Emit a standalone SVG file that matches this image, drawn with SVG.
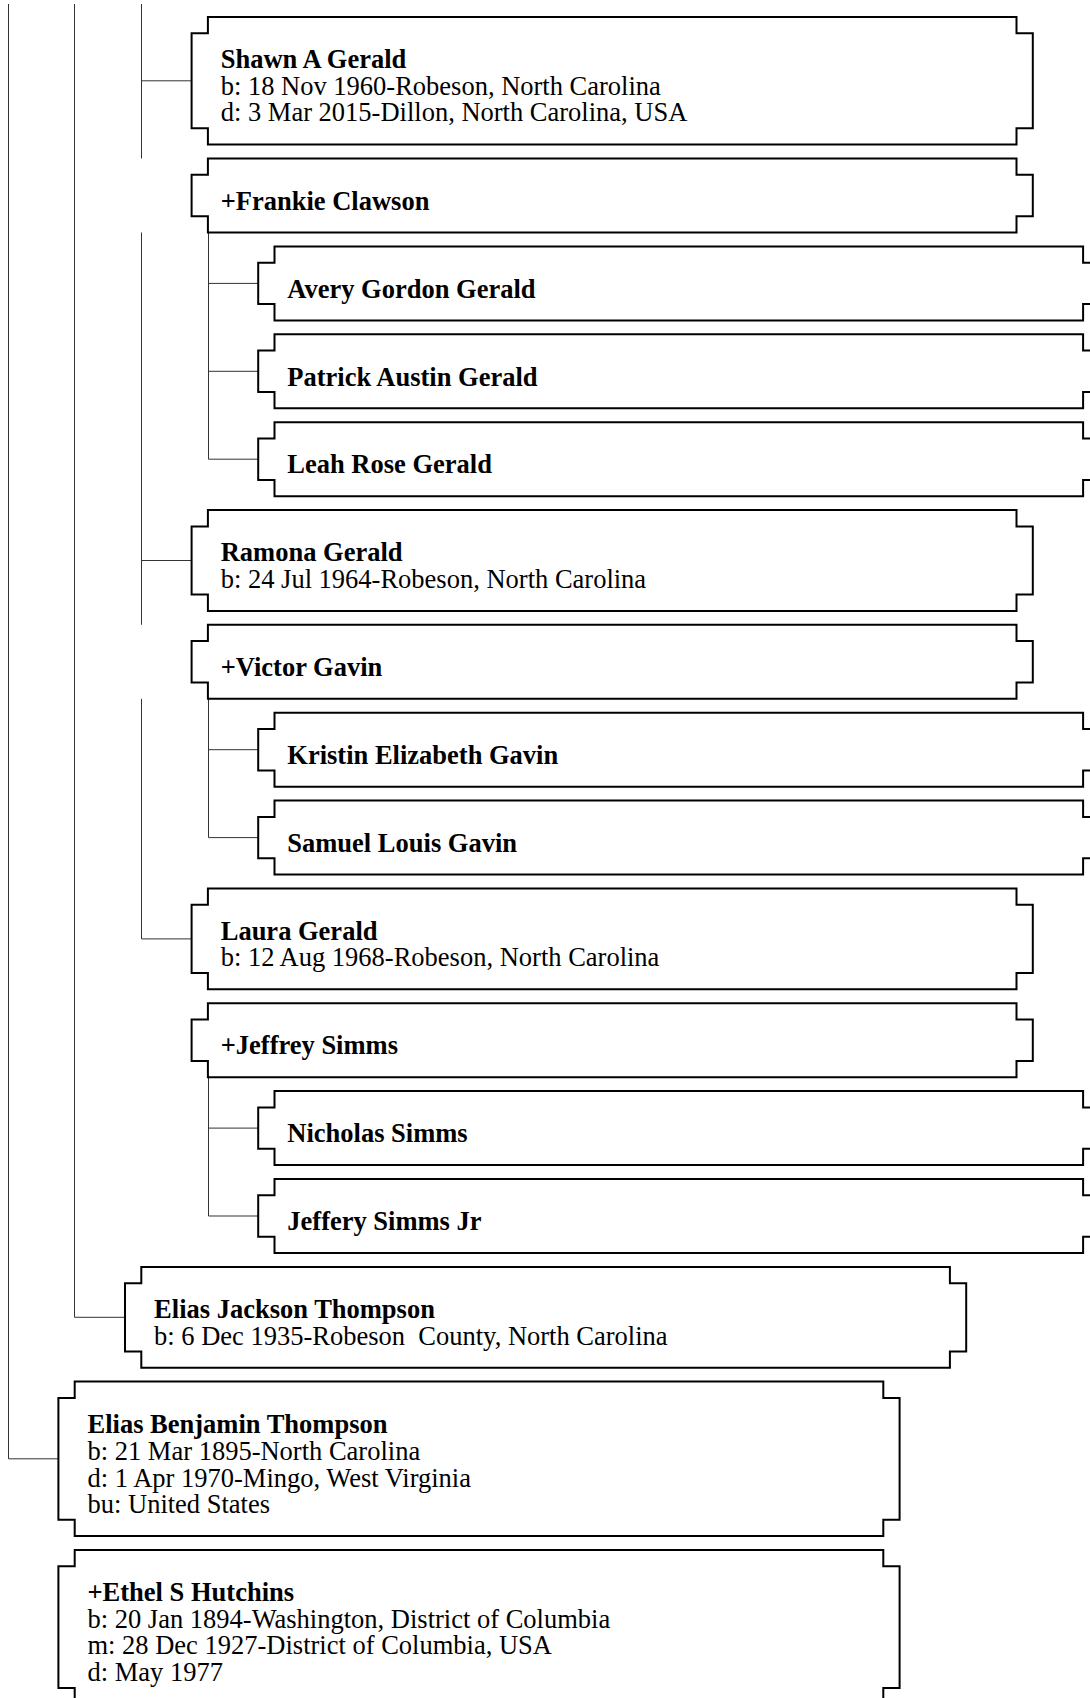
<svg xmlns="http://www.w3.org/2000/svg" width="1090" height="1698" viewBox="0 0 1090 1698">
<style>
.box{fill:#fff;stroke:#000;stroke-width:2;stroke-linejoin:miter}
.con{fill:none;stroke:#333;stroke-width:1}
text{font-family:"Liberation Serif","Times New Roman",serif;font-size:26.5px;fill:#000}
.n{font-weight:bold}
</style>
<rect width="1090" height="1698" fill="#fff"/>
<g id="connectors" class="con">
<path d="M8.5 4V1458.8H58.4"/>
<path d="M74.5 4V1317.3H125"/>
<path d="M141.5 4V158.5M141.5 80.8H191.6M141.5 232.5V624.8M141.5 560.5H191.6M141.5 698.8V938.9H191.6"/>
<path d="M208.5 232.5V459.2H258.2M208.5 283.4H258.2M208.5 371.3H258.2"/>
<path d="M208.5 698.8V837.6H258.2M208.5 749.7H258.2"/>
<path d="M208.5 1077.2V1216H258.2M208.5 1128.1H258.2"/>
</g>
<g id="shawn"><path class="box" d="M207.9 17h808.6v16.3h16.3v95h-16.3v16.3h-808.6v-16.3h-16.3v-95h16.3z"/>
<text transform="translate(220.7 68.2)"><tspan class="n" x="0" y="0">Shawn A Gerald</tspan><tspan x="0" y="26.6">b: 18 Nov 1960-Robeson, North Carolina</tspan><tspan x="0" y="53.2">d: 3 Mar 2015-Dillon, North Carolina, USA</tspan></text></g>
<g id="frankie"><path class="box" d="M207.9 158.5h808.6v16.3h16.3v41.4h-16.3v16.3h-808.6v-16.3h-16.3v-41.4h16.3z"/>
<text class="n" transform="translate(220.7 209.7)">+Frankie Clawson</text></g>
<g id="avery"><path class="box" d="M274.5 246.4h808.6v16.3h16.3v41.4h-16.3v16.3h-808.6v-16.3h-16.3v-41.4h16.3z"/>
<text class="n" transform="translate(287.3 297.6)">Avery Gordon Gerald</text></g>
<g id="patrick"><path class="box" d="M274.5 334.3h808.6v16.3h16.3v41.4h-16.3v16.3h-808.6v-16.3h-16.3v-41.4h16.3z"/>
<text class="n" transform="translate(287.3 385.5)">Patrick Austin Gerald</text></g>
<g id="leah"><path class="box" d="M274.5 422.2h808.6v16.3h16.3v41.4h-16.3v16.3h-808.6v-16.3h-16.3v-41.4h16.3z"/>
<text class="n" transform="translate(287.3 473.4)">Leah Rose Gerald</text></g>
<g id="ramona"><path class="box" d="M207.9 510.1h808.6v16.3h16.3v68.2h-16.3v16.3h-808.6v-16.3h-16.3v-68.2h16.3z"/>
<text transform="translate(220.7 561.3)"><tspan class="n" x="0" y="0">Ramona Gerald</tspan><tspan x="0" y="26.6">b: 24 Jul 1964-Robeson, North Carolina</tspan></text></g>
<g id="victor"><path class="box" d="M207.9 624.8h808.6v16.3h16.3v41.4h-16.3v16.3h-808.6v-16.3h-16.3v-41.4h16.3z"/>
<text class="n" transform="translate(220.7 676)">+Victor Gavin</text></g>
<g id="kristin"><path class="box" d="M274.5 712.7h808.6v16.3h16.3v41.4h-16.3v16.3h-808.6v-16.3h-16.3v-41.4h16.3z"/>
<text class="n" transform="translate(287.3 763.9)">Kristin Elizabeth Gavin</text></g>
<g id="samuel"><path class="box" d="M274.5 800.6h808.6v16.3h16.3v41.4h-16.3v16.3h-808.6v-16.3h-16.3v-41.4h16.3z"/>
<text class="n" transform="translate(287.3 851.8)">Samuel Louis Gavin</text></g>
<g id="laura"><path class="box" d="M207.9 888.5h808.6v16.3h16.3v68.2h-16.3v16.3h-808.6v-16.3h-16.3v-68.2h16.3z"/>
<text transform="translate(220.7 939.7)"><tspan class="n" x="0" y="0">Laura Gerald</tspan><tspan x="0" y="26.6">b: 12 Aug 1968-Robeson, North Carolina</tspan></text></g>
<g id="jeffrey"><path class="box" d="M207.9 1003.2h808.6v16.3h16.3v41.4h-16.3v16.3h-808.6v-16.3h-16.3v-41.4h16.3z"/>
<text class="n" transform="translate(220.7 1054.4)">+Jeffrey Simms</text></g>
<g id="nicholas"><path class="box" d="M274.5 1091.1h808.6v16.3h16.3v41.4h-16.3v16.3h-808.6v-16.3h-16.3v-41.4h16.3z"/>
<text class="n" transform="translate(287.3 1142.3)">Nicholas Simms</text></g>
<g id="jefferyjr"><path class="box" d="M274.5 1179h808.6v16.3h16.3v41.4h-16.3v16.3h-808.6v-16.3h-16.3v-41.4h16.3z"/>
<text class="n" transform="translate(287.3 1230.2)">Jeffery Simms Jr</text></g>
<g id="eliasjackson"><path class="box" d="M141.3 1266.9h808.6v16.3h16.3v68.2h-16.3v16.3h-808.6v-16.3h-16.3v-68.2h16.3z"/>
<text xml:space="preserve" style="white-space:pre" transform="translate(154.1 1318.3)"><tspan class="n" x="0" y="0">Elias Jackson Thompson</tspan><tspan x="0" y="26.6">b: 6 Dec 1935-Robeson  County, North Carolina</tspan></text></g>
<g id="eliasbenjamin"><path class="box" d="M74.7 1381.6h808.6v16.3h16.3v121.8h-16.3v16.3h-808.6v-16.3h-16.3v-121.8h16.3z"/>
<text transform="translate(87.5 1433.4)"><tspan class="n" x="0" y="0">Elias Benjamin Thompson</tspan><tspan x="0" y="26.6">b: 21 Mar 1895-North Carolina</tspan><tspan x="0" y="53.2">d: 1 Apr 1970-Mingo, West Virginia</tspan><tspan x="0" y="79.8">bu: United States</tspan></text></g>
<g id="ethel"><path class="box" d="M74.7 1549.9h808.6v16.3h16.3v121.8h-16.3v16.3h-808.6v-16.3h-16.3v-121.8h16.3z"/>
<text transform="translate(87.5 1601.3)"><tspan class="n" x="0" y="0">+Ethel S Hutchins</tspan><tspan x="0" y="26.6">b: 20 Jan 1894-Washington, District of Columbia</tspan><tspan x="0" y="53.2">m: 28 Dec 1927-District of Columbia, USA</tspan><tspan x="0" y="79.8">d: May 1977</tspan></text></g>
</svg>
